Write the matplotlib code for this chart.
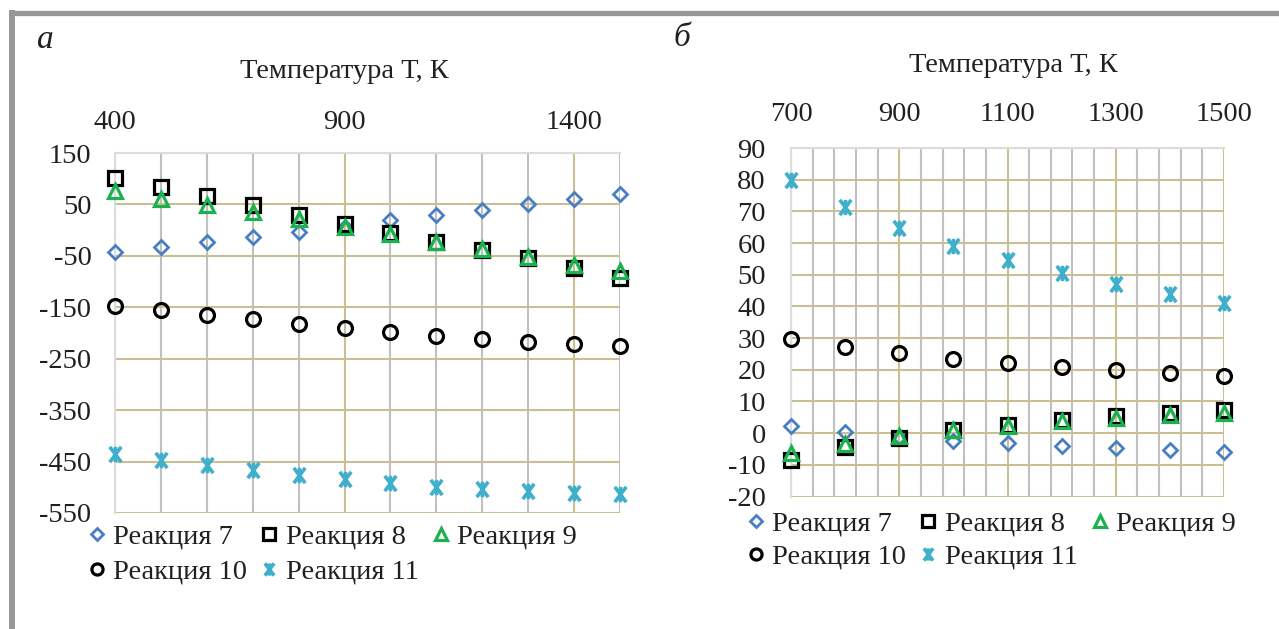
import matplotlib
matplotlib.use("Agg")
import matplotlib.pyplot as plt
from matplotlib.ticker import FixedLocator
from matplotlib.lines import Line2D
from matplotlib.path import Path

# ---------------- data ----------------
T_a = [400, 500, 600, 700, 800, 900, 1000, 1100, 1200, 1300, 1400, 1500]
r7_a = [-42, -33, -23, -13, -4, 7, 19, 29, 40, 51, 61, 71]
r8_a = [102, 84, 66, 49, 29, 12, -5, -23, -39, -55, -73, -93]
r9_a = [76, 61, 48, 35, 21, 7, -8, -23, -37, -52, -67, -80]
r10_a = [-147, -156, -165, -173, -182, -190, -198, -205, -212, -217, -222, -226]
r11_a = [-436, -447, -456, -466, -476, -484, -492, -499, -504, -508, -512, -513]

T_b = [700, 800, 900, 1000, 1100, 1200, 1300, 1400, 1500]
r7_b = [2.2, 0.3, -1.3, -2.4, -3.2, -4.1, -4.8, -5.3, -5.9]
r8_b = [-8.5, -4.4, -1.5, 0.9, 2.5, 4.1, 5.3, 6.4, 7.4]
r9_b = [-6.4, -3.5, -0.9, 0.9, 2.3, 3.7, 4.8, 5.7, 6.4]
r10_b = [29.6, 27.1, 25.3, 23.5, 22.1, 20.8, 19.8, 18.9, 18.0]
r11_b = [80.0, 71.5, 64.6, 59.2, 54.5, 50.4, 47.0, 43.9, 41.2]

labels = ["Реакция 7", "Реакция 8", "Реакция 9", "Реакция 10", "Реакция 11"]
xticks_a = [400, 900, 1400]
yticks_a = [150, 50, -50, -150, -250, -350, -450, -550]
xticks_b = [700, 900, 1100, 1300, 1500]
yticks_b = [90, 80, 70, 60, 50, 40, 30, 20, 10, 0, -10, -20]
xlabel = "Температура Т, К"

# ---------------- style ----------------
W, H = 1279, 629
plt.rcParams['font.family'] = ['Liberation Serif', 'DejaVu Serif']
TXT = '#231F20'
TAN = '#C9BF93'
GRAY = '#C0C0C0'
LIGHT = '#DCDCDC'
FS = 20.5

# Excel-like star marker: X plus vertical bar
star = Path([(-0.75, -1), (0.75, 1), (-0.75, 1), (0.75, -1), (0, -1), (0, 1)],
            [Path.MOVETO, Path.LINETO, Path.MOVETO, Path.LINETO, Path.MOVETO, Path.LINETO])

styles = [
    dict(marker='D', ms=7.5, mec='#4A7EC4', mfc='none', mew=2.0),
    dict(marker='s', ms=10, mec='#000000', mfc='none', mew=2.3),
    dict(marker='^', ms=10, mec='#1DB04F', mfc='none', mew=2.3),
    dict(marker='o', ms=10, mec='#000000', mfc='none', mew=2.3),
    dict(marker=star, ms=11, mec='#3FAFCB', mfc='none', mew=2.6),
]

fig = plt.figure(figsize=(W / 100, H / 100), dpi=100)
fig.patch.set_facecolor('white')


def px_axes(x0, x1, ytop, ybot):
    return fig.add_axes([x0 / W, 1 - ybot / H, (x1 - x0) / W, (ybot - ytop) / H])


def setup(ax, xlim, ylim, xticks, yticks, xminor, xpad, ypad):
    ax.set_xlim(*xlim)
    ax.set_ylim(*ylim)
    ax.set_axisbelow(True)
    ax.xaxis.tick_top()
    ax.xaxis.set_major_locator(FixedLocator(xticks))
    ax.xaxis.set_minor_locator(FixedLocator(list(range(xlim[0], xlim[1] + 1, xminor))))
    ax.yaxis.set_major_locator(FixedLocator(yticks))
    ax.set_xticklabels([str(v) for v in xticks])
    ax.set_yticklabels([str(v) for v in yticks])
    ax.tick_params(axis='x', which='both', length=0, pad=xpad, labelsize=FS, colors=TXT)
    ax.tick_params(axis='y', which='both', length=0, pad=ypad, labelsize=FS, colors=TXT)
    ax.grid(True, which='minor', axis='x', color=GRAY, lw=1.5)
    ax.grid(True, which='major', axis='both', color=TAN, lw=1.5)
    for s in ['bottom', 'right']:
        ax.spines[s].set_visible(False)
    for s in ['top', 'left']:
        ax.spines[s].set_color(LIGHT)
        ax.spines[s].set_linewidth(1.5)
    ax.patch.set_alpha(0)


def plot_series(ax, T, series):
    handles = []
    for y, st, lab in zip(series, styles, labels):
        h, = ax.plot(T, y, ls='none', clip_on=False, label=lab, zorder=3, **st)
        handles.append(h)
    return handles


# ---- panel a ----
axa = px_axes(115, 620, 153, 513)
setup(axa, (400, 1500), (-550, 150), xticks_a, yticks_a, 100, 13, 17)
ha = plot_series(axa, T_a, [r7_a, r8_a, r9_a, r10_a, r11_a])

# ---- panel b ----
axb = px_axes(791, 1224, 148, 496.5)
setup(axb, (700, 1500), (-20, 90), xticks_b, yticks_b, 40, 15, 18)
hb = plot_series(axb, T_b, [r7_b, r8_b, r9_b, r10_b, r11_b])

# ---- legends (row-major order) ----
order = [0, 3, 1, 4, 2]
for ax, hs, (lx, ly), lsp in [(axa, ha, (89, 524), 0.32), (axb, hb, (748, 511), 0.25)]:
    ax.legend([hs[i] for i in order], [labels[i] for i in order], ncol=3,
              loc='upper left', bbox_to_anchor=(lx / W, 1 - ly / H),
              bbox_transform=fig.transFigure, frameon=False, fontsize=FS,
              borderpad=0, borderaxespad=0, handlelength=0.55, handletextpad=0.3,
              columnspacing=0.5, labelspacing=lsp, labelcolor=TXT, markerscale=0.8)

# ---- axis titles ----
fig.text(344 / W, 1 - 72 / H, xlabel, ha='center', va='center', fontsize=FS, color=TXT)
fig.text(1013 / W, 1 - 65 / H, xlabel, ha='center', va='center', fontsize=FS, color=TXT)

# ---- panel labels ----
fig.text(45 / W, 1 - 40 / H, 'а', ha='center', va='center', fontsize=24, style='italic', color=TXT)
fig.text(682 / W, 1 - 38 / H, 'б', ha='center', va='center', fontsize=24, style='italic', color=TXT)

# ---- outer frame ----
FRAME = '#97979A'
fig.add_artist(Line2D([9 / W, 1.0], [1 - 12.5 / H, 1 - 12.5 / H], transform=fig.transFigure,
                      color=FRAME, lw=3.8, solid_capstyle='butt'))
fig.add_artist(Line2D([12 / W, 12 / W], [1 - 10 / H, 0.0], transform=fig.transFigure,
                      color=FRAME, lw=4.3, solid_capstyle='butt'))

fig.savefig('out.png', dpi=100, facecolor='white')
